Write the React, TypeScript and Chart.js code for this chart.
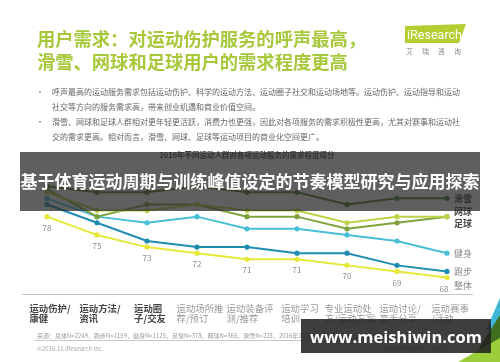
import React, { useEffect, useRef } from 'react';
import { Chart, registerables } from 'chart.js';

Chart.register(...registerables);

// ---------- data ----------
const categories: string[][] = [
  ['运动伤护/', '康健'],
  ['运动方法/', '资讯'],
  ['运动圈', '子/交友'],
  ['运动场所推', '荐/预订'],
  ['运动装备评', '测/推荐'],
  ['运动学习', '培训'],
  ['专业运动处', '方/运动方案'],
  ['运动讨论/', '高手分享'],
  ['运动赛事', '/活动'],
];
const seriesNames = ['滑雪', '网球', '足球', '健身', '跑步', '整体'];
const skiing = [83, 82, 82, 83, 82, 82, 80, 81, 81];
const tennis = [82, 79, 79, 80, 79, 79, 77, 78, 78];
const football = [82.5, 78, 80, 80, 78, 78, 76, 77, 78];
const fitness = [81, 78, 77, 78, 76, 76, 75, 74, 72];
const running = [80, 77, 74, 73, 73, 72, 72, 70, 69];
const overall = [78, 75, 73, 72, 71, 71, 70, 69, 68];
const seriesData = [skiing, tennis, football, fitness, running, overall];
const seriesColors = ['#4d7a1e', '#bcd348', '#7fa33c', '#48bfd7', '#1f8db0', '#e6e83a'];
const nameOffsets = [0, -5, 7, 0, 0, 8];
const nameColors = ['#333', '#444', '#444', '#888', '#888', '#888'];

const FONT = '"Noto Sans CJK SC", "Noto Sans", sans-serif';

const labelPlugin = {
  id: 'customLabels',
  afterDatasetsDraw(chart: any) {
    const ctx = chart.ctx;
    const xs = chart.scales.x;
    const area = chart.chartArea;
    ctx.save();
    // value labels on 整体
    const lastIdx = seriesData.length - 1;
    const meta = chart.getDatasetMeta(lastIdx);
    ctx.font = `8px ${FONT}`;
    ctx.fillStyle = '#8a8a8a';
    ctx.textAlign = 'center';
    ctx.textBaseline = 'middle';
    meta.data.forEach((pt: any, i: number) => {
      ctx.fillText(String(overall[i]), pt.x - (i === overall.length - 1 ? 3 : 0), pt.y + 11);
    });
    // series names at line ends
    ctx.textAlign = 'left';
    seriesNames.forEach((name, d) => {
      const m = chart.getDatasetMeta(d);
      const p = m.data[m.data.length - 1];
      ctx.font = `${d < 3 ? 'bold ' : ''}9px ${FONT}`;
      ctx.fillStyle = nameColors[d];
      ctx.fillText(name, p.x + 7, p.y + nameOffsets[d]);
    });
    // category labels below the axis
    categories.forEach((lines, i) => {
      const x = xs.getPixelForValue(i);
      ctx.font = `${i < 3 ? 'bold ' : ''}9.4px ${FONT}`;
      ctx.fillStyle = i < 3 ? '#444' : '#9a9a9a';
      const w = Math.max(...lines.map((l) => ctx.measureText(l).width));
      const left = x - w / 2 + 3;
      lines.forEach((l, k) => {
        ctx.fillText(l, left, area.bottom + 14 + k * 10);
      });
    });
    ctx.restore();
  },
};

function LineChart() {
  const ref = useRef<HTMLCanvasElement | null>(null);
  useEffect(() => {
    if (!ref.current) return;
    const chart = new Chart(ref.current, {
      type: 'line',
      data: {
        labels: categories.map((c) => c.join('')),
        datasets: seriesNames.map((name, d) => ({
          label: name,
          data: seriesData[d],
          borderColor: seriesColors[d],
          backgroundColor: seriesColors[d],
          pointBackgroundColor: seriesColors[d],
          pointBorderWidth: 0,
          pointRadius: 2.6,
          borderWidth: 2,
          tension: 0,
          fill: false,
        })),
      },
      options: {
        animation: false,
        responsive: false,
        maintainAspectRatio: false,
        layout: { padding: { left: 22, right: 28, top: 160, bottom: 68 } },
        plugins: { legend: { display: false }, tooltip: { enabled: false } },
        scales: {
          x: {
            type: 'category',
            offset: true,
            grid: { display: false, drawTicks: false },
            border: { display: true, color: '#c4c4c4', width: 1 },
            ticks: { display: false },
          },
          y: { display: false, min: 65.3, max: 87.3 },
        },
      },
      plugins: [labelPlugin],
    } as any);
    return () => chart.destroy();
  }, []);
  return (
    <canvas
      ref={ref}
      width={500}
      height={362}
      style={{ position: 'absolute', left: 0, top: 0, width: 500, height: 362 }}
    />
  );
}

export default function App() {
  useEffect(() => {
    document.body.style.margin = '0';
  }, []);
  const abs = (s: React.CSSProperties): React.CSSProperties => ({ position: 'absolute', whiteSpace: 'nowrap', ...s });
  return (
    <div
      style={{
        position: 'relative',
        width: 500,
        height: 362,
        overflow: 'hidden',
        background: '#fff',
        fontFamily: FONT,
      }}
    >
      <LineChart />
      {/* title */}
      <div style={abs({ left: 37, top: 27, fontSize: 18.3, fontWeight: 700, lineHeight: '23px', color: '#a6c93c' })}>
        用户需求：对运动伤护服务的呼声最高，
        <br />
        滑雪、网球和足球用户的需求程度更高
      </div>
      {/* logo */}
      <svg style={{ position: 'absolute', left: 405, top: 24 }} width={62} height={20}>
        <polygon points="0,2 61,0 54,19 0,19" fill="#b3cf2f" />
        <text x={2} y={15} fill="#fff" fontSize={13} textLength={55} lengthAdjust="spacingAndGlyphs" fontFamily="Roboto, sans-serif">
          iResearch
        </text>
      </svg>
      <div style={abs({ left: 406, top: 46, fontSize: 7, letterSpacing: 9, color: '#8a8a8a' })}>艾瑞咨询</div>
      {/* bullets */}
      <div style={abs({ left: 36, top: 83.5, fontSize: 8, lineHeight: '15px', color: '#666' })}>
        •
        <br />
        <br />•
      </div>
      <div style={abs({ left: 52, top: 83.5, fontSize: 8, lineHeight: '15px', color: '#666' })}>
        呼声最高的运动服务需求包括运动伤护、科学的运动方法、运动圈子社交和运动场地等。运动伤护、运动指导和运动
        <br />
        社交等方向的服务需求高，带来创业机遇和商业价值空间。
        <br />
        滑雪、网球和足球人群相对更年轻更活跃，消费力也更强，因此对各项服务的需求积极性更高，尤其对赛事和运动社
        <br />
        交的需求更高。相对而言，滑雪、网球、足球等运动项目的商业化空间更广。
      </div>
      {/* chart title */}
      <div style={abs({ left: 0, width: 494, top: 150, textAlign: 'center', fontSize: 7.5, fontWeight: 700, color: '#444', lineHeight: '10px' })}>
        2016年不同运动人群对各项运动服务的需求程度得分
      </div>
      {/* source */}
      <div
        style={abs({
          left: 35,
          top: 332,
          fontSize: 6,
          lineHeight: '8px',
          color: '#9a9a9a',
          borderBottom: '1px solid #c8c8c8',
          paddingLeft: 2,
        })}
      >
        来源：总体N=2249，跑步N=1159，健身N=1125，足球N=378，网球N=365，滑雪N=228，2016年10月通过艾瑞iClick社区联机调研获得。
      </div>
      <div style={abs({ left: 37, top: 345, fontSize: 6, lineHeight: '8px', color: '#aaa' })}>©2016.11 iResearch Inc.</div>
      <div style={abs({ left: 385, top: 345, fontSize: 6, lineHeight: '8px', color: '#aaa' })}>www.iresearch.com.cn</div>
      {/* corner decoration */}
      <svg style={{ position: 'absolute', left: 450, top: 295 }} width={50} height={67}>
        <polygon points="50,3 50,35 36,35" fill="#3fb6d8" />
        <polygon points="50,20 50,67 20,67" fill="#3f6e1e" />
        <polygon points="50,43 50,67 8,67" fill="#9ccd3a" />
      </svg>
      <div style={abs({ left: 470, top: 345, fontSize: 9, lineHeight: '10px', color: '#cfe39a' })}>29</div>
      {/* banner overlay */}
      <div
        style={abs({
          left: 20,
          top: 152,
          width: 460,
          height: 59,
          background: 'rgba(45,45,45,0.76)',
          color: '#fff',
          fontSize: 17,
          fontWeight: 700,
          display: 'flex',
          alignItems: 'center',
          justifyContent: 'center',
          paddingBottom: 3,
          boxSizing: 'border-box',
        })}
      >
        基于体育运动周期与训练峰值设定的节奏模型研究与应用探索
      </div>
      {/* watermark */}
      <div
        style={abs({
          left: 301,
          top: 319,
          width: 190,
          height: 34,
          background: 'rgba(30,30,30,0.86)',
          color: '#fff',
          fontSize: 16.5,
          fontWeight: 700,
          fontFamily: '"Open Sans", "Noto Sans", sans-serif',
          display: 'flex',
          alignItems: 'center',
          justifyContent: 'center',
        })}
      >
        www.meishiwin.com
      </div>
    </div>
  );
}
